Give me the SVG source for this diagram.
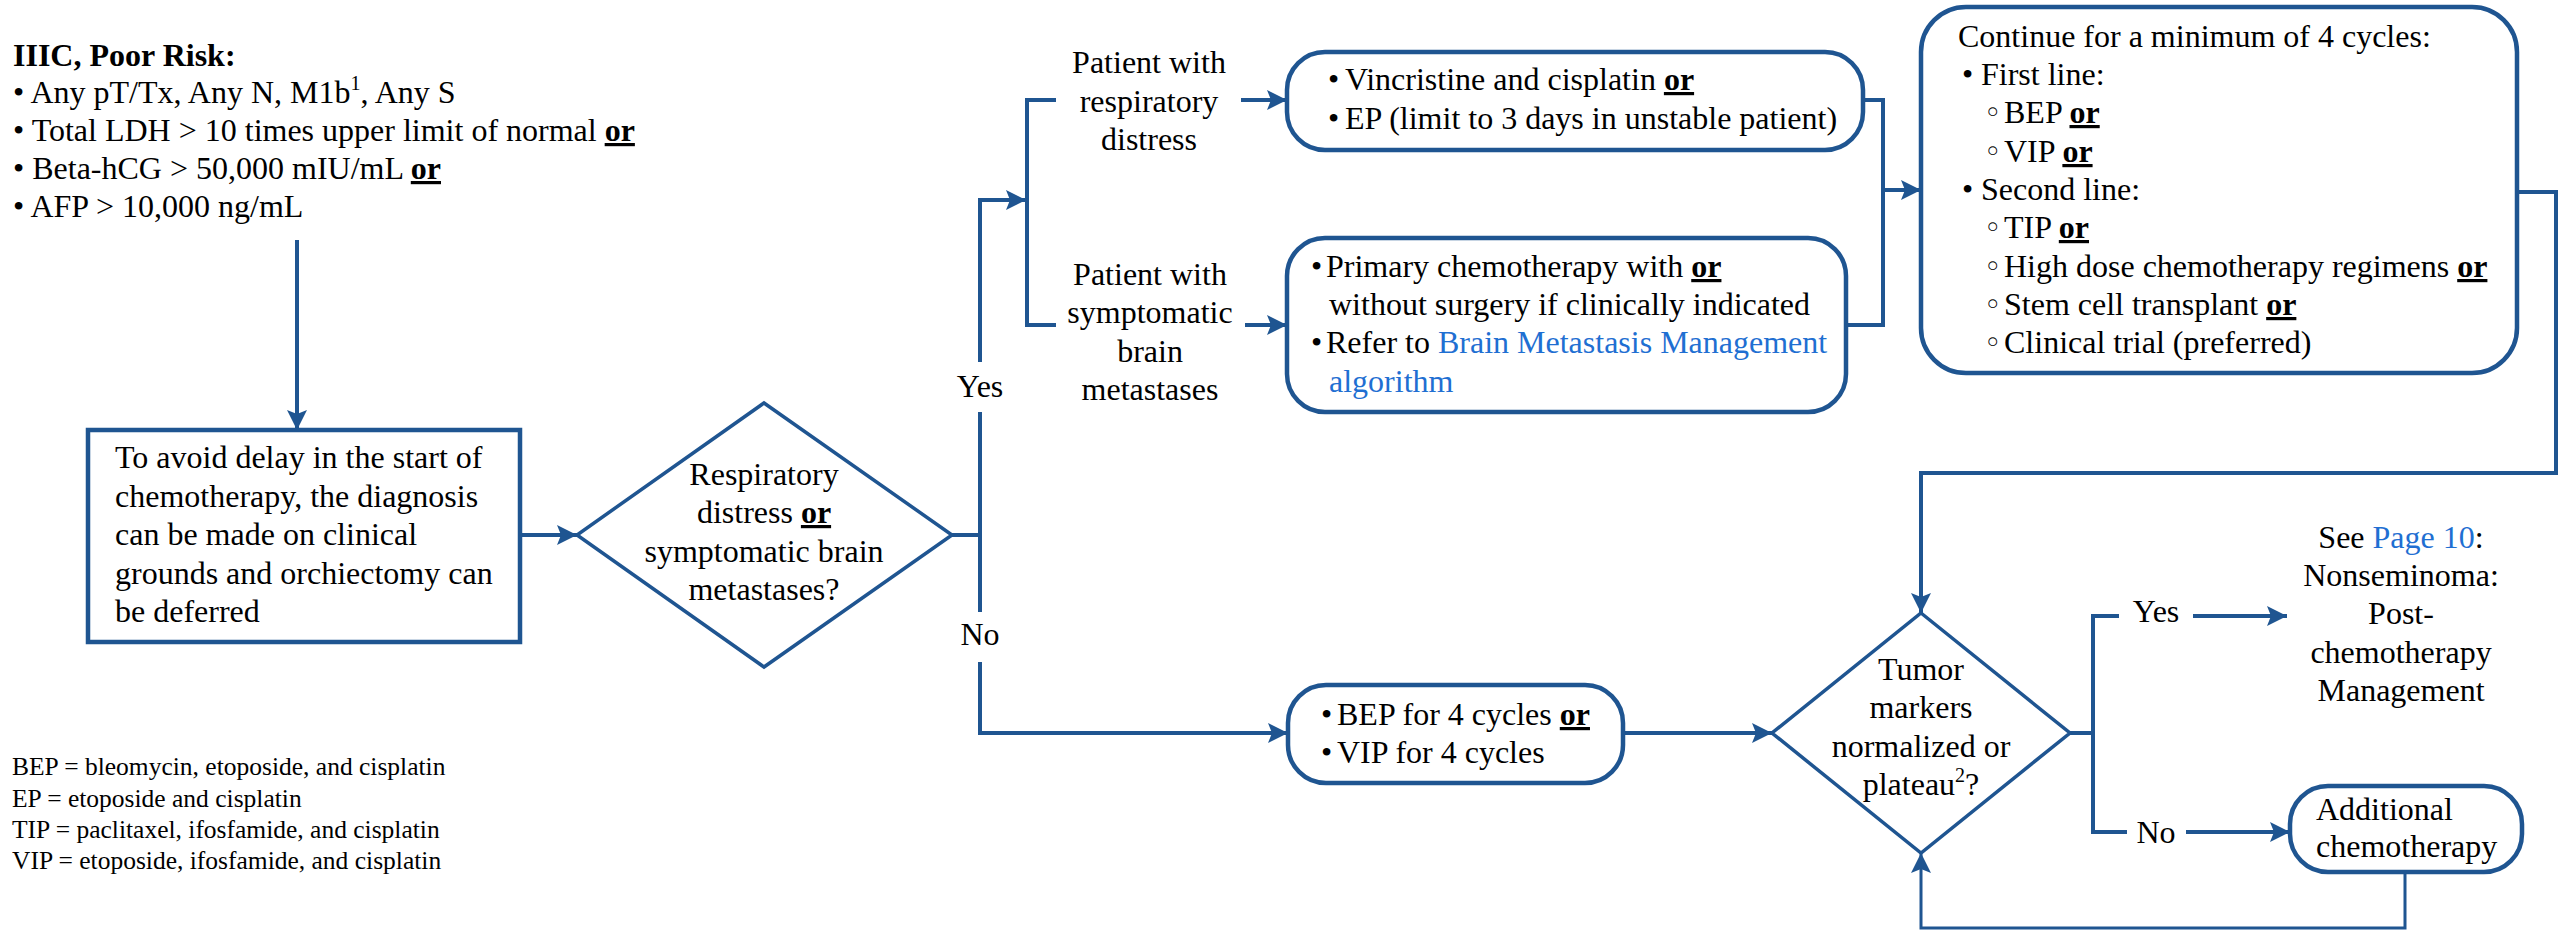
<svg xmlns="http://www.w3.org/2000/svg" width="2572" height="930" viewBox="0 0 2572 930">
<style>
.t{font-family:"Liberation Serif","Times New Roman",serif;font-size:32px;fill:#000}
.c{text-anchor:middle}
.b{font-weight:bold}
.u{text-decoration:underline}
.lk{fill:#1f6fd2}
.leg{font-family:"Liberation Serif","Times New Roman",serif;font-size:25.5px;fill:#000}
.sup{font-size:20px}
.box{fill:#fff;stroke:#1f5591;stroke-width:4.5}
.dia{fill:#fff;stroke:#1f5591;stroke-width:3.5}
.ln{fill:none;stroke:#1f5591;stroke-width:4}
.thin{fill:none;stroke:#1f5591;stroke-width:3}
.ci{font-family:"DejaVu Sans",sans-serif;font-size:30px}
</style>
<defs>
<marker id="ah" viewBox="0 0 20 20" refX="20" refY="10" markerWidth="20" markerHeight="20" markerUnits="userSpaceOnUse" orient="auto">
<path d="M0,0 L20,10 L0,20 L4,10 z" fill="#1f5591"/>
</marker>
</defs>
<rect width="2572" height="930" fill="#fff"/>

<g id="connectors">
<path class="ln" d="M297,240 V430" marker-end="url(#ah)"/>
<path class="ln" d="M520,535 H577" marker-end="url(#ah)"/>
<path class="ln" d="M952,535 H980"/>
<path class="ln" d="M980,612 V412"/>
<path class="ln" d="M980,362 V200 H1026" marker-end="url(#ah)"/>
<path class="ln" d="M1056,100 H1027 V325 H1056"/>
<path class="ln" d="M1241,100 H1287" marker-end="url(#ah)"/>
<path class="ln" d="M1245,325 H1287" marker-end="url(#ah)"/>
<path class="ln" d="M1863,100 H1883 V325 H1846"/>
<path class="ln" d="M1883,190 H1921" marker-end="url(#ah)"/>
<path class="ln" d="M2517,192 H2556 V473 H1921 V613" marker-end="url(#ah)"/>
<path class="ln" d="M980,662 V733 H1288" marker-end="url(#ah)"/>
<path class="ln" d="M1623,733 H1772" marker-end="url(#ah)"/>
<path class="ln" d="M2070,733 H2093"/>
<path class="ln" d="M2119,616 H2093 V832 H2127"/>
<path class="ln" d="M2193,616 H2287" marker-end="url(#ah)"/>
<path class="ln" d="M2186,832 H2290" marker-end="url(#ah)"/>
<path class="thin" d="M2405,872 V928 H1921 V853" marker-end="url(#ah)"/>
<text class="t c" x="980" y="397">Yes</text>
<text class="t c" x="980" y="645">No</text>
<text class="t c" x="2156" y="622">Yes</text>
<text class="t c" x="2156" y="843">No</text>
</g>

<g id="poor-risk">
<text class="t b" x="13" y="66">IIIC, Poor Risk:</text>
<text class="t" x="13" y="103">• Any pT/Tx, Any N, M1b<tspan class="sup" dy="-13">1</tspan><tspan dy="13">, Any S</tspan></text>
<text class="t" x="13" y="141">• Total LDH &gt; 10 times upper limit of normal <tspan class="b u">or</tspan></text>
<text class="t" x="13" y="179">• Beta-hCG &gt; 50,000 mIU/mL <tspan class="b u">or</tspan></text>
<text class="t" x="13" y="217">• AFP &gt; 10,000 ng/mL</text>
</g>

<g id="avoid-delay">
<rect class="box" x="88" y="430" width="432" height="212" stroke-width="5"/>
<text class="t" x="115" y="468">To avoid delay in the start of</text>
<text class="t" x="115" y="507">chemotherapy, the diagnosis</text>
<text class="t" x="115" y="545">can be made on clinical</text>
<text class="t" x="115" y="584">grounds and orchiectomy can</text>
<text class="t" x="115" y="622">be deferred</text>
</g>

<g id="decision-resp">
<polygon class="dia" points="764,403 952,535 764,667 577,535"/>
<text class="t c" x="764" y="485">Respiratory</text>
<text class="t c" x="764" y="523">distress <tspan class="b u">or</tspan></text>
<text class="t c" x="764" y="562">symptomatic brain</text>
<text class="t c" x="764" y="600">metastases?</text>
</g>

<g id="label-resp">
<text class="t c" x="1149" y="73">Patient with</text>
<text class="t c" x="1149" y="112">respiratory</text>
<text class="t c" x="1149" y="150">distress</text>
</g>

<g id="label-brain">
<text class="t c" x="1150" y="285">Patient with</text>
<text class="t c" x="1150" y="323">symptomatic</text>
<text class="t c" x="1150" y="362">brain</text>
<text class="t c" x="1150" y="400">metastases</text>
</g>

<g id="vincristine">
<rect class="box" x="1287" y="52" width="576" height="98" rx="38"/>
<text class="t" x="1328" y="90">•<tspan x="1345">Vincristine and cisplatin </tspan><tspan class="b u">or</tspan></text>
<text class="t" x="1328" y="129">•<tspan x="1345">EP (limit to 3 days in unstable patient)</tspan></text>
</g>

<g id="primary-chemo">
<rect class="box" x="1287" y="238" width="559" height="174" rx="38"/>
<text class="t" x="1311" y="277">•<tspan x="1326">Primary chemotherapy with </tspan><tspan class="b u">or</tspan></text>
<text class="t" x="1329" y="315">without surgery if clinically indicated</text>
<text class="t" x="1311" y="353">•<tspan x="1326">Refer to </tspan><tspan class="lk">Brain Metastasis Management</tspan></text>
<text class="t lk" x="1329" y="392">algorithm</text>
</g>

<g id="continue">
<rect class="box" x="1921" y="7" width="596" height="366" rx="45"/>
<text class="t" x="1958" y="47">Continue for a minimum of 4 cycles:</text>
<text class="t" x="1962" y="85">•<tspan x="1981">First line:</tspan></text>
<text class="t" x="1984" y="123"><tspan class="ci">◦</tspan><tspan x="2004">BEP </tspan><tspan class="b u">or</tspan></text>
<text class="t" x="1984" y="162"><tspan class="ci">◦</tspan><tspan x="2004">VIP </tspan><tspan class="b u">or</tspan></text>
<text class="t" x="1962" y="200">•<tspan x="1981">Second line:</tspan></text>
<text class="t" x="1984" y="238"><tspan class="ci">◦</tspan><tspan x="2004">TIP </tspan><tspan class="b u">or</tspan></text>
<text class="t" x="1984" y="277"><tspan class="ci">◦</tspan><tspan x="2004">High dose chemotherapy regimens </tspan><tspan class="b u">or</tspan></text>
<text class="t" x="1984" y="315"><tspan class="ci">◦</tspan><tspan x="2004">Stem cell transplant </tspan><tspan class="b u">or</tspan></text>
<text class="t" x="1984" y="353"><tspan class="ci">◦</tspan><tspan x="2004">Clinical trial (preferred)</tspan></text>
</g>

<g id="bep-vip">
<rect class="box" x="1288" y="685" width="335" height="98" rx="38"/>
<text class="t" x="1321" y="725">•<tspan x="1337">BEP for 4 cycles </tspan><tspan class="b u">or</tspan></text>
<text class="t" x="1321" y="763">•<tspan x="1337">VIP for 4 cycles</tspan></text>
</g>

<g id="decision-markers">
<polygon class="dia" points="1921,613 2070,733 1921,853 1772,733"/>
<text class="t c" x="1921" y="680">Tumor</text>
<text class="t c" x="1921" y="718">markers</text>
<text class="t c" x="1921" y="757">normalized or</text>
<text class="t c" x="1921" y="795">plateau<tspan class="sup" dy="-13">2</tspan><tspan dy="13">?</tspan></text>
</g>

<g id="post-chemo">
<text class="t c" x="2401" y="548">See <tspan class="lk">Page 10</tspan>:</text>
<text class="t c" x="2401" y="586">Nonseminoma:</text>
<text class="t c" x="2401" y="624">Post-</text>
<text class="t c" x="2401" y="663">chemotherapy</text>
<text class="t c" x="2401" y="701">Management</text>
</g>

<g id="additional">
<rect class="box" x="2290" y="786" width="232" height="86" rx="38"/>
<text class="t" x="2316" y="820">Additional</text>
<text class="t" x="2316" y="857">chemotherapy</text>
</g>

<g id="legend">
<text class="leg" x="12" y="775">BEP = bleomycin, etoposide, and cisplatin</text>
<text class="leg" x="12" y="807">EP = etoposide and cisplatin</text>
<text class="leg" x="12" y="838">TIP = paclitaxel, ifosfamide, and cisplatin</text>
<text class="leg" x="12" y="869">VIP = etoposide, ifosfamide, and cisplatin</text>
</g>
</svg>
